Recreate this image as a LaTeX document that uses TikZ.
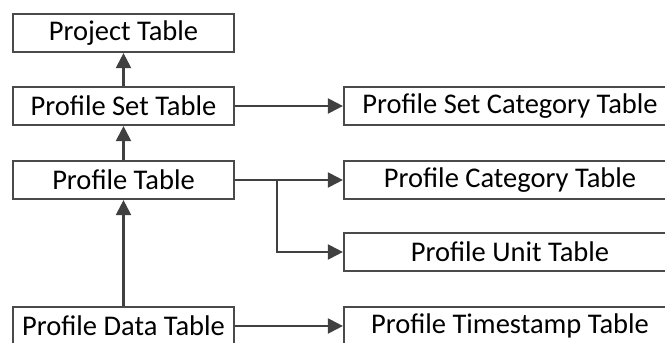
\documentclass[tikz,border=0pt]{standalone}
\usepackage{fontspec}
\setmainfont{Carlito}
\usetikzlibrary{arrows.meta}
\definecolor{boxline}{HTML}{4A4A4A}
\definecolor{wire}{HTML}{404040}
\tikzset{
  tbl/.style={draw=boxline, line width=2.2pt, fill=white, minimum height=38pt,
    inner sep=0pt, font=\fontsize{28.5}{32}\selectfont, text=black},
  lefttbl/.style={tbl, minimum width=221pt},
  righttbl/.style={tbl, minimum width=332pt},
  link/.style={draw=wire, line width=2.2pt,
    -{Triangle[length=15pt,width=15pt]}},
}
\begin{document}
\begin{tikzpicture}[x=1pt,y=-1pt]
  \useasboundingbox (0,0) rectangle (665,343);
  \clip (0,0) rectangle (665,343);

  % left column
  \node[lefttbl] (proj)  at (123.5,33)  {Project Table};
  \node[lefttbl] (pset)  at (123.5,106) {Profile Set Table};
  \node[lefttbl] (prof)  at (123.5,180) {Profile Table};
  \node[lefttbl] (pdata) at (123.5,326) {Profile Data Table};

  % right column
  \node[righttbl] (psetcat) at (510,106) {Profile Set Category Table};
  \node[righttbl] (pcat)    at (510,180) {Profile Category Table};
  \node[righttbl] (punit)   at (510,252) {Profile Unit Table};
  \node[righttbl] (pts)     at (510,326) {Profile Timestamp Table};

  % connectors
  \coordinate (fork) at (277,180);
  \draw[link] (pset) -- (proj);
  \draw[link] (prof) -- (pset);
  \draw[link] (pdata) -- (prof);
  \draw[link] (pset) -- (psetcat);
  \draw[link] (prof) -- (pcat);
  \draw[link] (fork) |- (punit);
  \draw[link] (pdata) -- (pts);
\end{tikzpicture}
\end{document}
